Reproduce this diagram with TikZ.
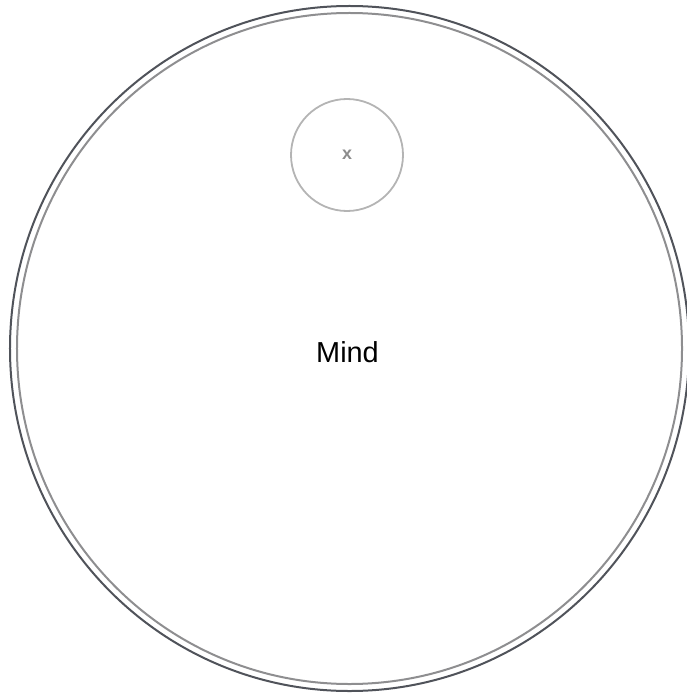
\documentclass[tikz,border=0pt]{standalone}
\usepackage{fontspec}
\setmainfont{Liberation Sans}
\usetikzlibrary{shapes.geometric}

\definecolor{ringdark}{HTML}{50535A}
\definecolor{ringlight}{HTML}{8E8E90}
\definecolor{subgray}{HTML}{B4B4B4}
\definecolor{labgray}{HTML}{8C8C8C}

\begin{document}
\begin{tikzpicture}[
  x=1bp, y=-1bp,
  ring/.style    = {ellipse, inner sep=0pt, line width=2bp},
  subcirc/.style = {circle, draw=subgray, line width=1.8bp, inner sep=0pt,
                    minimum size=112bp},
  lbl/.style     = {font=\fontsize{29}{34}\selectfont, text=black},
  sublbl/.style  = {font=\fontsize{18}{21}\selectfont\bfseries, text=labgray},
]
\useasboundingbox (0,0) rectangle (687,694);
\node[ring, draw=ringdark,  minimum width=679bp, minimum height=685bp] (mindouter) at (349.5,348.5) {};
\node[ring, draw=ringlight, minimum width=665bp, minimum height=671bp] (mindinner) at (349.5,348.5) {};
\node[lbl] (mind) at (347.5,352) {Mind};
\node[subcirc] (sub) at (347,155) {};
\node[sublbl] (x) at (sub.center) {x};
\end{tikzpicture}
\end{document}
